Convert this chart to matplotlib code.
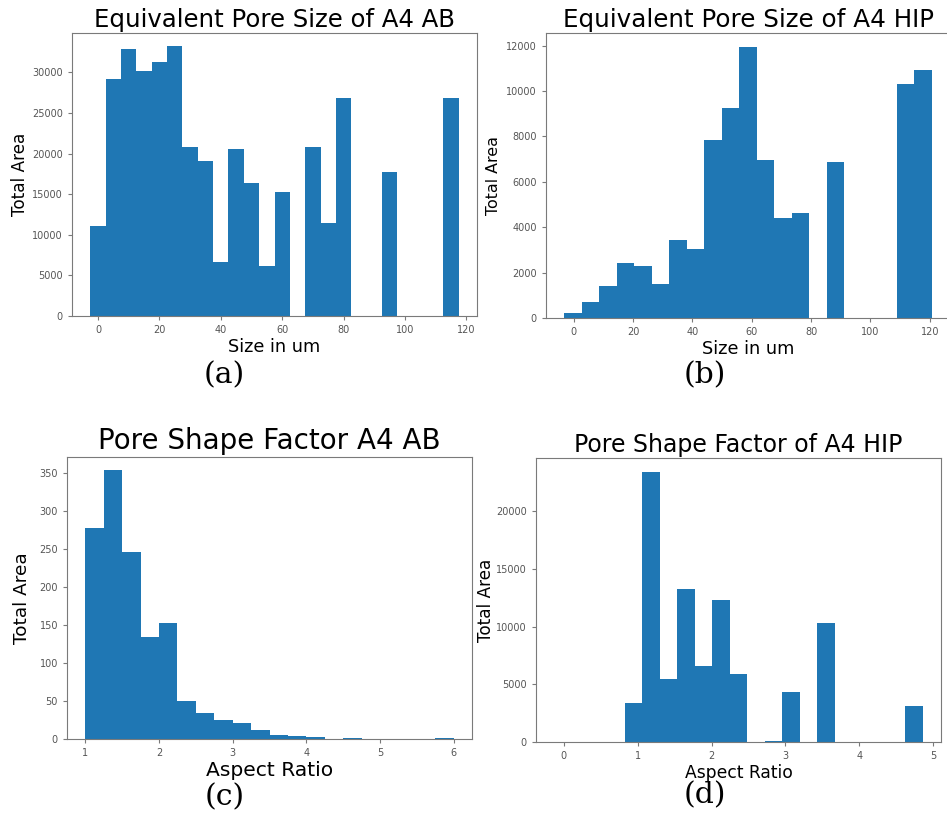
import numpy as np
import matplotlib
matplotlib.use('Agg')
import matplotlib.pyplot as plt

# (a) equivalent pore size, A4 AB: bins of 5 um centred on 0, 5, ..., 115
size_ab_edges = np.arange(-2.5, 120, 5)
size_ab_area = [11100, 29200, 32900, 30200, 31300, 33200, 20800, 19100,
                6600, 20600, 16400, 6200, 15300, 0, 20800, 11400,
                26900, 0, 0, 17700, 0, 0, 0, 26900]

# (b) equivalent pore size, A4 HIP: 21 bins
size_hip_edges = np.linspace(-3.1, 120.6, 22)
size_hip_area = [200, 700, 1400, 2440, 2300, 1480, 3440, 3040, 7830, 9240,
                 11960, 6960, 4420, 4610, 0, 6890, 0, 0, 0, 10300, 10910]

# (c) pore shape factor, A4 AB: bins of 0.25 from 1 to 6
shape_ab_edges = np.linspace(1, 6, 21)
shape_ab_area = [278, 354, 246, 135, 153, 50, 34, 24.5, 20.6, 11.4,
                 5.7, 3.5, 2.2, 0.3, 1, 0, 0, 0, 0, 1]

# (d) pore shape factor, A4 HIP: 21 bins
shape_hip_edges = np.linspace(-0.125, 4.855, 22)
shape_hip_area = [0, 0, 0, 0, 3400, 23450, 5500, 13250, 6600, 12300, 5900,
                  0, 80, 4350, 0, 10350, 0, 0, 0, 0, 3100]

W, H = 947, 816
fig = plt.figure(figsize=(W / 100, H / 100), dpi=100)

blue = '#1f77b4'
spine_col = '#7a7a7a'
tick_col = '#555555'


def panel(box, edges, vals, title, tsize, tpad, xlabel, xsize, ylabel, ysize, ypad):
    l, r, t, b = box
    ax = fig.add_axes([l / W, 1 - b / H, (r - l) / W, (b - t) / H])
    ax.hist(edges[:-1], bins=edges, weights=vals, color=blue)
    ax.set_title(title, fontsize=tsize, pad=tpad)
    ax.set_xlabel(xlabel, fontsize=xsize, labelpad=2)
    ax.set_ylabel(ylabel, fontsize=ysize, labelpad=ypad)
    for s in ax.spines.values():
        s.set_color(spine_col)
    ax.tick_params(colors=spine_col, labelcolor=tick_col, labelsize=7,
                   length=3, width=0.8)
    return ax


panel((72, 477, 33, 316), size_ab_edges, size_ab_area,
      'Equivalent Pore Size of A4 AB', 17.6, 4.5, 'Size in um', 12.7,
      'Total Area', 12.1, 2)
panel((546, 950, 33, 318), size_hip_edges, size_hip_area,
      'Equivalent Pore Size of A4 HIP', 17.7, 4, 'Size in um', 12.8,
      'Total Area', 11.4, 4)
panel((67, 472, 457, 739), shape_ab_edges, shape_ab_area,
      'Pore Shape Factor A4 AB', 20, 5.5, 'Aspect Ratio', 14.6,
      'Total Area', 13.3, 6)
panel((536, 941, 458, 742), shape_hip_edges, shape_hip_area,
      'Pore Shape Factor of A4 HIP', 17, 4.5, 'Aspect Ratio', 12.3,
      'Total Area', 12.1, 1)

# sub-figure letters
for x, y, s in [(224, 375, '(a)'), (705, 375, '(b)'),
                (225, 797, '(c)'), (705, 795, '(d)')]:
    fig.text(x / W, 1 - y / H, s, ha='center', va='center',
             fontsize=21.5, family='DejaVu Serif')

fig.savefig('out.png', dpi=100)
